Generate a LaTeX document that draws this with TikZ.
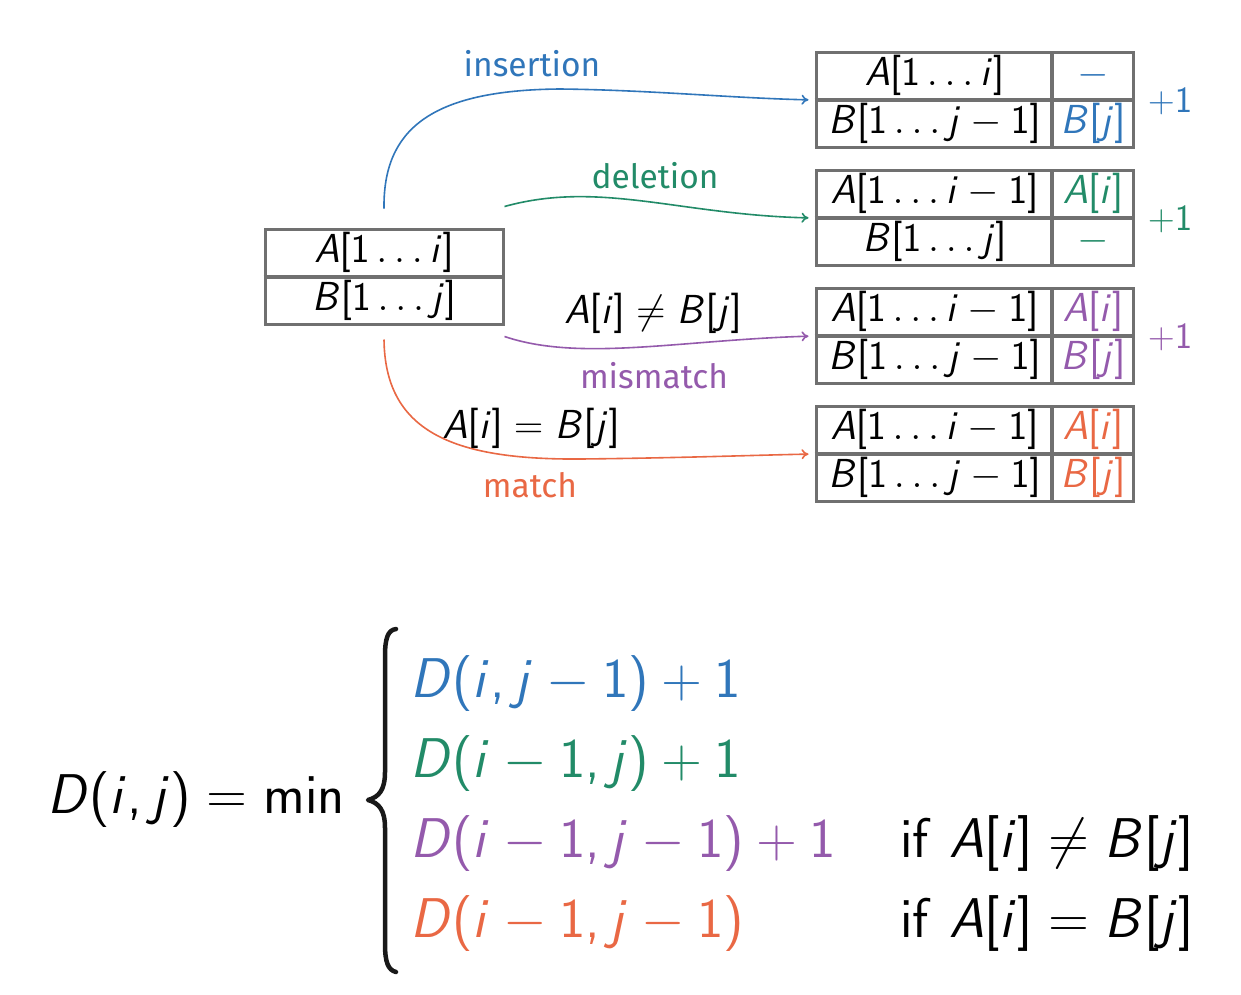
\RequirePackage{fix-cm}
\documentclass[tikz,border=0pt]{standalone}
\usepackage[no-math]{fontspec}
\newfontfamily\labelfont{Fira Sans}
\usetikzlibrary{arrows.meta,calc}
\DeclareSymbolFont{sfletters}{OT1}{cmss}{m}{sl}
\SetSymbolFont{operators}{normal}{OT1}{cmss}{m}{n}
\DeclareMathSymbol{A}{\mathalpha}{sfletters}{`A}
\DeclareMathSymbol{B}{\mathalpha}{sfletters}{`B}
\DeclareMathSymbol{D}{\mathalpha}{sfletters}{`D}
\DeclareMathSymbol{i}{\mathalpha}{sfletters}{`i}
\DeclareMathSymbol{j}{\mathalpha}{sfletters}{`j}
\DeclareMathSymbol{,}{\mathpunct}{operators}{`,}
\definecolor{myblue}{RGB}{48,118,186}
\definecolor{mygreen}{RGB}{34,139,104}
\definecolor{mypurple}{RGB}{148,90,172}
\definecolor{myorange}{RGB}{233,104,68}
\definecolor{boxgray}{RGB}{112,112,112}
\tikzset{
  tbl/.style={draw=boxgray, line width=3pt, minimum width=317pt, minimum height=95pt, inner sep=0pt},
  ltbl/.style={tbl, minimum width=238pt},
  divider/.style={draw=boxgray, line width=4pt},
  cell/.style={anchor=base, inner sep=0pt, font=\fontsize{40.5}{48}\selectfont},
  lbl/.style={anchor=base, inner sep=0pt, font=\labelfont\fontsize{33.5}{40}\selectfont},
  plusone/.style={anchor=base, inner sep=0pt, font=\fontsize{37}{44}\selectfont},
  formula/.style={anchor=base west, inner sep=0pt, font=\fontsize{56}{64}\selectfont},
  conn/.style={line width=1.6pt, -{To[length=7pt,width=10pt]}, shorten >=6pt},
  bracestroke/.style={draw=black!90, line width=4.5pt, line cap=round, line join=round},
}
\begin{document}
\begin{tikzpicture}[x=1pt,y=-1pt]
\useasboundingbox[fill=white] (0,0) rectangle (1241,994);

% left table
\node[ltbl] (L) at (384,276.5) {};
\draw[divider] (L.west) -- (L.east);
\node[cell] (la) at (384,262) {$A[1\ldots i]$};
\node[cell] (lb) at (384,310) {$B[1\ldots j]$};

% right tables
\foreach \k/\y in {1/100,2/218,3/336,4/454}{
  \node[tbl] (T\k) at (974.5,\y) {};
  \draw[divider] (T\k.west) -- (T\k.east);
  \draw[divider] ([xshift=237pt]T\k.north west) -- ([xshift=237pt]T\k.south west);
}
% table 1: insertion
\node[cell] (t1a) at (934.5,85.5) {$A[1\ldots i]$};
\node[cell] (t1b) at (934.5,133) {$B[1\ldots j-1]$};
\node[cell,text=myblue] (t1c) at (1093,85.5) {$-$};
\node[cell,text=myblue] (t1d) at (1093,133) {$B[j]$};
% table 2: deletion
\node[cell] (t2a) at (934.5,203.5) {$A[1\ldots i-1]$};
\node[cell] (t2b) at (934.5,251) {$B[1\ldots j]$};
\node[cell,text=mygreen] (t2c) at (1093,203.5) {$A[i]$};
\node[cell,text=mygreen] (t2d) at (1093,251) {$-$};
% table 3: mismatch
\node[cell] (t3a) at (934.5,321.5) {$A[1\ldots i-1]$};
\node[cell] (t3b) at (934.5,369) {$B[1\ldots j-1]$};
\node[cell,text=mypurple] (t3c) at (1093,321.5) {$A[i]$};
\node[cell,text=mypurple] (t3d) at (1093,369) {$B[j]$};
% table 4: match
\node[cell] (t4a) at (934.5,439.5) {$A[1\ldots i-1]$};
\node[cell] (t4b) at (934.5,487) {$B[1\ldots j-1]$};
\node[cell,text=myorange] (t4c) at (1093,439.5) {$A[i]$};
\node[cell,text=myorange] (t4d) at (1093,487) {$B[j]$};

% +1 costs
\node[plusone,text=myblue] (p1) at (1170,112) {$+1$};
\node[plusone,text=mygreen] (p2) at (1170,230) {$+1$};
\node[plusone,text=mypurple] (p3) at (1170,348) {$+1$};

% connectors
\coordinate (sIns) at ([yshift=19pt]L.north);
\coordinate (sDel) at ([yshift=21pt]L.north east);
\coordinate (sMis) at ([yshift=-11pt]L.south east);
\coordinate (sMat) at ([yshift=-14pt]L.south);
\draw[conn,myblue] (sIns) .. controls (383,130) and (430,90) .. (560,89) .. controls (650,90) and (730,98) .. (T1.west);
\draw[conn,mygreen] (sDel) .. controls (600,180) and (680,215) .. (T2.west);
\draw[conn,mypurple] (sMis) .. controls (580,362) and (680,340) .. (T3.west);
\draw[conn,myorange] (sMat) .. controls (385,430) and (450,460) .. (580,459) .. controls (680,458) and (760,455) .. (T4.west);

% labels
\node[lbl,text=myblue] (lins) at (532,76) {insertion};
\node[lbl,text=mygreen] (ldel) at (655,188) {deletion};
\node[cell] (lneq) at (653,323) {$A[i]\neq B[j]$};
\node[lbl,text=mypurple] (lmis) at (654,388) {mismatch};
\node[cell] (leq) at (531,438) {$A[i]=B[j]$};
\node[lbl,text=myorange] (lmat) at (530,497) {match};

% recurrence
\node[formula] (lhs) at (47,813) {$D(i,j)=\min$};
\draw[bracestroke] (396,629) .. controls (388,630) and (385,638) .. (385,656)
  -- (385,772) .. controls (385,790) and (379,797) .. (368,800)
  .. controls (379,803) and (385,810) .. (385,828)
  -- (385,944) .. controls (385,962) and (388,970) .. (396,972);
\node[formula,text=myblue] (r1) at (410,697) {$D(i,j-1)+1$};
\node[formula,text=mygreen] (r2) at (410,777) {$D(i-1,j)+1$};
\node[formula,text=mypurple] (r3) at (410,857) {$D(i-1,j-1)+1$};
\node[formula,text=myorange] (r4) at (410,937) {$D(i-1,j-1)$};
\node[formula] (c3) at (900,857) {$\mathrm{if}\ A[i]\neq B[j]$};
\node[formula] (c4) at (900,937) {$\mathrm{if}\ A[i]=B[j]$};
\end{tikzpicture}
\end{document}
